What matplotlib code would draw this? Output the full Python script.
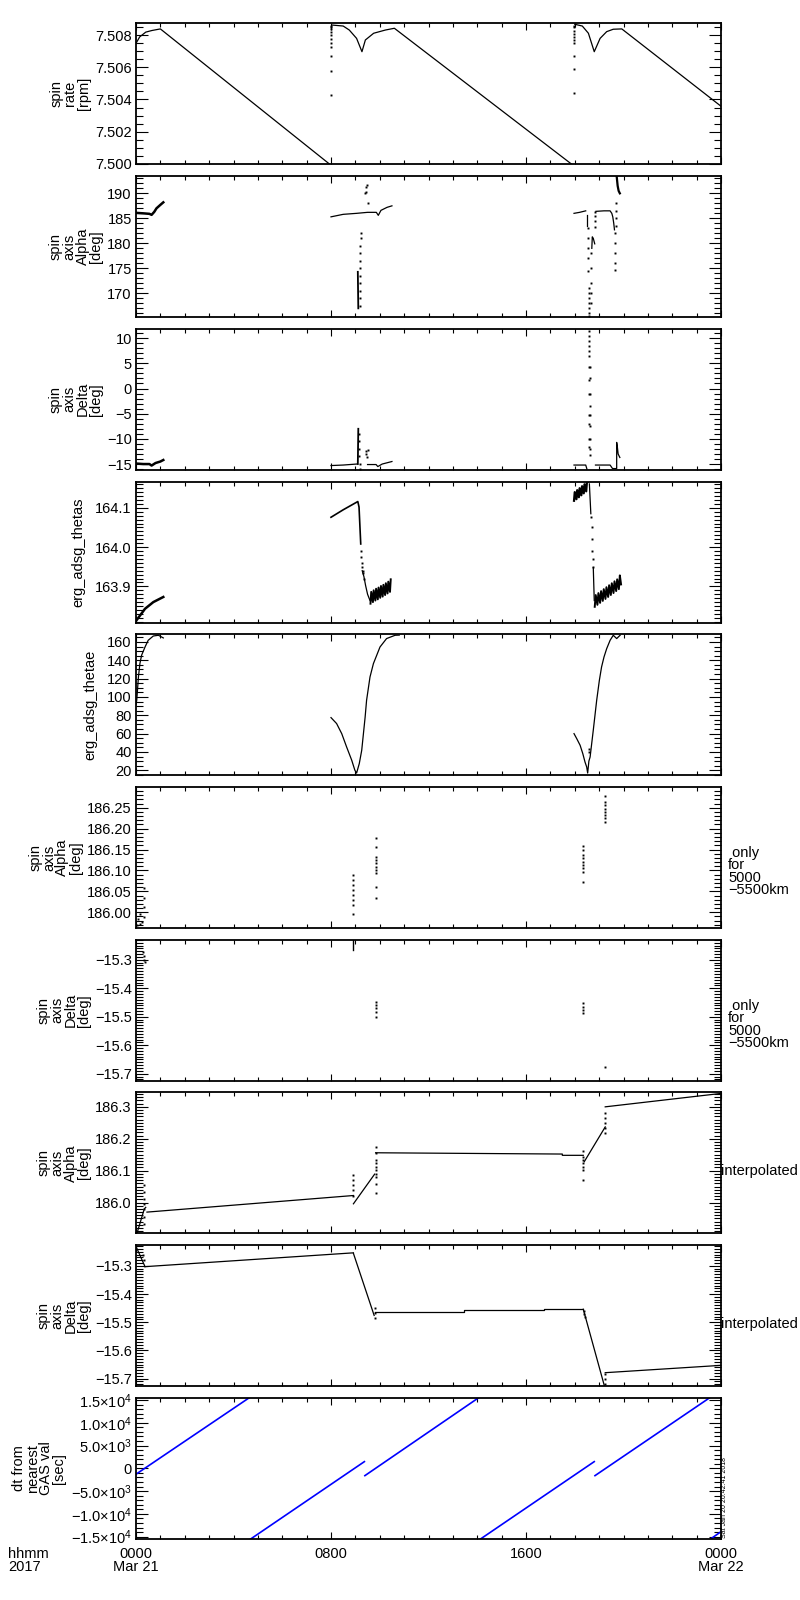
import matplotlib
matplotlib.use("Agg")
import matplotlib.pyplot as plt
from matplotlib.ticker import MultipleLocator, FixedLocator, FuncFormatter

OUTPUT_PLOT = "out.png"

plt.rcParams["font.family"] = ["Liberation Sans", "DejaVu Sans"]
plt.rcParams["font.size"] = 10.5
plt.rcParams["mathtext.fontset"] = "custom"
plt.rcParams["mathtext.rm"] = "Liberation Sans"
plt.rcParams["mathtext.it"] = "Liberation Sans"

# x axis: hours after 0000 Mar 21 2017
X_TICKS = [0, 8, 16, 24]
X_TICK_LABELS = ["0000\nMar 21", "0800", "1600", "0000\nMar 22"]

# ---- panel 1: spin rate [rpm]
RATE_A_H = [0.0, 0.15, 0.4, 0.65, 1.0, 8.0]
RATE_A_V = [7.5075, 7.5079, 7.5082, 7.5083, 7.5084, 7.4999]
RATE_B_H = [8.05, 8.5, 8.75, 9.05, 9.27, 9.41, 9.75, 10.23, 10.6, 17.93]
RATE_B_V = [7.50864, 7.50858, 7.50833, 7.50781, 7.50698, 7.50771, 7.50813, 7.50833, 7.50844, 7.4999]
RATE_C_H = [18.0, 18.31, 18.56, 18.8, 19.04, 19.31, 19.58, 19.93, 24.0]
RATE_C_V = [7.50869, 7.50858, 7.50813, 7.50698, 7.50781, 7.50823, 7.50838, 7.5084, 7.50358]
RATE_DOTS_H = [8.0, 8.0, 8.0, 8.0, 8.0, 8.0, 8.0, 8.0, 8.0, 8.0, 8.0,
               17.98, 17.98, 17.98, 17.98, 17.98, 17.98, 17.98, 17.98, 17.98, 17.98]
RATE_DOTS_V = [7.5086, 7.5085, 7.5084, 7.5082, 7.508, 7.5078, 7.5075, 7.5073, 7.5067, 7.5058, 7.5043,
               7.5086, 7.5085, 7.5083, 7.5081, 7.5079, 7.5077, 7.5075, 7.5067, 7.5059, 7.5044]

# ---- panel 2: spin axis Alpha [deg]
ALPHA_BAND_H = [0.0, 0.3, 0.55, 0.64, 0.75, 0.84, 1.0, 1.12]
ALPHA_BAND_V = [186.1, 186.0, 185.9, 185.7, 186.3, 187.0, 187.7, 188.2]
ALPHA_B_H = [8.0, 8.5, 9.05, 9.5, 9.86, 9.94, 10.05, 10.3, 10.5]
ALPHA_B_V = [185.3, 185.8, 186.0, 186.2, 186.2, 185.6, 186.6, 187.2, 187.5]
ALPHA_C_H = [9.1, 9.12]
ALPHA_C_V = [174.3, 167.0]
ALPHA_D_H = [17.97, 18.2, 18.45]
ALPHA_D_V = [186.0, 186.2, 186.5]
ALPHA_E_H = [18.49, 18.49]
ALPHA_E_V = [185.7, 183.5]
ALPHA_F_H = [18.70, 18.72, 18.76, 18.82]
ALPHA_F_V = [179.0, 181.3, 181.0, 179.9]
ALPHA_G_H = [18.87, 19.2, 19.45, 19.52, 19.56, 19.6, 19.63]
ALPHA_G_V = [186.4, 186.5, 186.5, 186.0, 185.3, 184.0, 182.7]
ALPHA_H_H = [19.72, 19.76, 19.8, 19.85]
ALPHA_H_V = [193.4, 191.5, 190.5, 190.0]
ALPHA_DOTS_H = [9.17, 9.18, 9.18, 9.19, 9.19, 9.2, 9.2, 9.21, 9.21, 9.22, 9.22,
                9.4, 9.43, 9.45, 9.46, 9.5,
                18.56, 18.56, 18.56, 18.56, 18.56,
                18.57, 18.58, 18.58, 18.59, 18.59, 18.6, 18.6,
                18.65, 18.65, 18.65, 18.65, 18.65,
                18.85, 18.85, 18.85, 18.85,
                19.65, 19.65, 19.65, 19.65, 19.65,
                19.7, 19.7, 19.7, 19.7]
ALPHA_DOTS_V = [167.5, 169.0, 170.5, 172.0, 173.5, 175.0, 176.5, 178.0, 179.5, 181.0, 182.0,
                190.0, 190.3, 191.3, 191.7, 188.0,
                183.1, 181.0, 179.0, 177.0, 174.5,
                171.0, 170.0, 169.0, 168.0, 167.0, 166.0, 165.5,
                178.0, 175.0, 172.0, 170.0, 168.0,
                186.3, 185.5, 184.5, 183.3,
                182.0, 180.0, 178.0, 176.0, 174.7,
                183.5, 185.0, 186.5, 188.0]

# ---- panel 3: spin axis Delta [deg]
DELTA_BAND_H = [0.0, 0.3, 0.55, 0.64, 0.8, 1.0, 1.12]
DELTA_BAND_V = [-14.9, -15.0, -15.0, -15.3, -14.8, -14.5, -14.2]
DELTA_B_H = [8.0, 8.5, 9.05]
DELTA_B_V = [-15.3, -15.2, -15.0]
DELTA_C_H = [9.1, 9.12]
DELTA_C_V = [-15.0, -8.0]
DELTA_D_H = [9.5, 9.85, 9.92, 10.1, 10.5]
DELTA_D_V = [-15.1, -15.1, -15.5, -15.0, -14.5]
DELTA_E_H = [17.97, 18.45, 18.5]
DELTA_E_V = [-15.2, -15.2, -16.0]
DELTA_F_H = [18.85, 19.45, 19.55, 19.7, 19.72, 19.72, 19.75, 19.78, 19.85]
DELTA_F_V = [-15.2, -15.2, -15.9, -15.9, -15.9, -10.7, -11.7, -13.0, -13.7]
DELTA_DOTS_H = [9.13, 9.14, 9.15, 9.16, 9.18, 9.2,
                9.42, 9.45, 9.47, 9.5,
                18.57, 18.57, 18.57, 18.57, 18.57, 18.57, 18.57, 18.57, 18.57, 18.57, 18.57, 18.57, 18.57,
                18.62, 18.62, 18.62, 18.62, 18.62, 18.62, 18.62, 18.62, 18.62]
DELTA_DOTS_V = [-9.0, -10.5, -12.0, -13.5, -15.0, -16.0,
                -12.5, -13.0, -13.6, -12.3,
                11.5, 10.5, 9.5, 8.5, 7.5, 6.5, 4.3, 1.7, -1.0, -5.3, -7.0, -10.0, -11.7,
                4.3, 2.0, -1.0, -3.5, -5.3, -7.5, -10.0, -12.0, -13.3]

# ---- panel 4: erg_adsg_thetas
THETAS_A_H = [0.0, 0.37, 0.71, 1.12]
THETAS_A_V = [163.812, 163.843, 163.86, 163.873]
THETAS_B_H = [8.0, 8.5, 9.1, 9.15, 9.22]
THETAS_B_V = [164.076, 164.095, 164.116, 164.102, 164.008]
THETAS_C_H = [9.28, 9.35, 9.42, 9.5, 9.6]
THETAS_C_V = [163.94, 163.925, 163.902, 163.88, 163.864]
THETAS_D_H = [9.62, 9.65, 9.72, 9.75, 9.82, 9.85, 9.92, 9.95, 10.02, 10.05,
              10.12, 10.15, 10.22, 10.25, 10.32, 10.35, 10.42, 10.45]
THETAS_D_V = [163.856, 163.886, 163.86, 163.89, 163.864, 163.894, 163.867, 163.897, 163.871, 163.901,
              163.874, 163.904, 163.878, 163.908, 163.882, 163.912, 163.886, 163.918]
THETAS_E_H = [17.97, 18.0, 18.07, 18.1, 18.17, 18.2, 18.27, 18.3, 18.37, 18.4, 18.47, 18.5, 18.55]
THETAS_E_V = [164.118, 164.14, 164.122, 164.145, 164.127, 164.15, 164.132, 164.155, 164.137,
              164.16, 164.142, 164.166, 164.167]
THETAS_F_H = [18.6, 18.66]
THETAS_F_V = [164.161, 164.085]
THETAS_G_H = [18.76, 18.8]
THETAS_G_V = [163.948, 163.864]
THETAS_H_H = [18.82, 18.86, 18.93, 18.97, 19.04, 19.08, 19.15, 19.19, 19.26, 19.3, 19.37,
              19.41, 19.48, 19.52, 19.59, 19.63, 19.7, 19.74, 19.81, 19.85, 19.9]
THETAS_H_V = [163.848, 163.878, 163.853, 163.883, 163.858, 163.888, 163.863, 163.893, 163.868,
              163.898, 163.873, 163.903, 163.878, 163.908, 163.883, 163.913, 163.888, 163.918,
              163.893, 163.928, 163.905]
THETAS_DOTS_H = [9.24, 9.25, 9.26, 9.27, 9.3, 9.33, 9.36,
                 18.68, 18.69, 18.7, 18.71, 18.73, 18.75]
THETAS_DOTS_V = [163.99, 163.975, 163.96, 163.95, 163.935, 163.94, 163.92,
                 164.076, 164.05, 164.02, 163.99, 163.97, 163.95]

# ---- panel 5: erg_adsg_thetae
THETAE_A_H = [0.0, 0.03, 0.1, 0.16, 0.23, 0.37, 0.5, 0.71, 0.92, 1.12]
THETAE_A_V = [92, 96.4, 121.8, 136.4, 145.5, 154.5, 161.8, 166.5, 167.3, 164.4]
THETAE_B_H = [8.0, 8.23, 8.44, 8.64, 8.85, 8.98, 9.05, 9.16, 9.26, 9.4, 9.46, 9.6, 9.74,
              10.01, 10.28, 10.63, 10.8]
THETAE_B_V = [77.5, 71, 60, 45.5, 31, 20, 17, 27.3, 41.8, 78, 96.4, 121.8, 136.4,
              154.5, 163.7, 167.3, 167.5]
THETAE_C_H = [17.97, 18.08, 18.22, 18.33, 18.42, 18.49, 18.53, 18.58, 18.63, 18.76, 18.9,
              19.01, 19.1, 19.2, 19.31, 19.45, 19.58, 19.72, 19.86]
THETAE_C_V = [60, 54.6, 47.3, 38.2, 29.1, 23.6, 17, 30, 34.5, 63.7, 96.4,
              118.2, 132.7, 143.6, 152.7, 161.8, 167.3, 163.7, 167.3]
THETAE_DOTS_H = [18.57, 18.6]
THETAE_DOTS_V = [43.6, 40.0]

# ---- panel 6: spin axis Alpha, only for 5000-5500km
ALPHA_R_H = [0.03, 0.1, 0.16, 0.16, 0.23, 0.34, 0.34, 0.34, 0.34,
             8.92, 8.92, 8.92, 8.92, 8.92, 8.92, 8.92, 8.92,
             9.83, 9.83, 9.83, 9.83, 9.83, 9.83, 9.83, 9.83, 9.83, 9.83,
             18.35, 18.35, 18.35, 18.35, 18.35, 18.35, 18.35, 18.35, 18.35,
             19.25, 19.25, 19.25, 19.25, 19.25, 19.25, 19.25, 19.25]
ALPHA_R_V = [185.969, 185.985, 185.997, 185.973, 185.977, 186.057, 186.033, 186.013, 185.989,
             186.089, 186.077, 186.065, 186.053, 186.041, 186.029, 186.017, 185.997,
             186.177, 186.157, 186.133, 186.125, 186.117, 186.109, 186.101, 186.093, 186.061, 186.033,
             186.158, 186.149, 186.137, 186.129, 186.121, 186.113, 186.105, 186.097, 186.073,
             186.278, 186.264, 186.256, 186.248, 186.24, 186.233, 186.225, 186.217]

# ---- panel 7: spin axis Delta, only for 5000-5500km
DELTA_R_H = [0.3, 0.32, 0.34, 0.37,
             9.83, 9.83, 9.83, 9.83, 9.83,
             18.35, 18.35, 18.35, 18.35,
             19.25]
DELTA_R_V = [-15.271, -15.288, -15.3, -15.306,
             -15.447, -15.458, -15.47, -15.482, -15.5,
             -15.453, -15.464, -15.476, -15.488,
             -15.676]
DELTA_R_SEG_H = [8.92, 8.92]
DELTA_R_SEG_V = [-15.225, -15.265]

# ---- panel 8: spin axis Alpha, interpolated
ALPHA_I_A_H = [0.03, 0.34, 0.4]
ALPHA_I_A_V = [185.901, 185.98, 185.985]
ALPHA_I_B_H = [0.45, 8.92]
ALPHA_I_B_V = [185.97, 186.022]
ALPHA_I_C_H = [8.92, 9.79]
ALPHA_I_C_V = [185.996, 186.089]
ALPHA_I_D_H = [9.83, 17.49, 17.49, 18.35]
ALPHA_I_D_V = [186.156, 186.152, 186.148, 186.148]
ALPHA_I_E_H = [18.39, 19.25]
ALPHA_I_E_V = [186.128, 186.237]
ALPHA_I_F_H = [19.25, 24.0]
ALPHA_I_F_V = [186.3, 186.342]
ALPHA_I_DOTS_H = [0.34, 0.34, 0.34, 0.34, 0.34, 0.34, 0.34,
                  8.92, 8.92, 8.92, 8.92, 8.92,
                  9.83, 9.83, 9.83, 9.83, 9.83, 9.83, 9.83, 9.83, 9.83, 9.83,
                  18.35, 18.35, 18.35, 18.35, 18.35, 18.35, 18.35,
                  19.25, 19.25, 19.25, 19.25, 19.25]
ALPHA_I_DOTS_V = [186.054, 186.033, 186.012, 185.996, 185.98, 185.954, 185.933,
                  186.086, 186.07, 186.054, 186.038, 186.022,
                  186.175, 186.154, 186.133, 186.123, 186.112, 186.102, 186.091, 186.08, 186.059, 186.03,
                  186.16, 186.144, 186.133, 186.123, 186.112, 186.102, 186.072,
                  186.281, 186.265, 186.249, 186.234, 186.218]

# ---- panel 9: spin axis Delta, interpolated
DELTA_I_A_H = [0.03, 0.37]
DELTA_I_A_V = [-15.237, -15.303]
DELTA_I_B_H = [0.37, 8.92]
DELTA_I_B_V = [-15.303, -15.254]
DELTA_I_C_H = [8.92, 9.77]
DELTA_I_C_V = [-15.256, -15.476]
DELTA_I_D_H = [9.8, 13.46, 13.46, 16.75, 16.75, 18.35]
DELTA_I_D_V = [-15.465, -15.465, -15.458, -15.458, -15.454, -15.454]
DELTA_I_E_H = [18.35, 19.21]
DELTA_I_E_V = [-15.454, -15.724]
DELTA_I_F_H = [19.25, 24.0]
DELTA_I_F_V = [-15.679, -15.653]
DELTA_I_DOTS_H = [0.3, 0.32, 9.8, 9.8, 9.8, 18.37, 18.38, 18.4, 19.25, 19.25, 19.25]
DELTA_I_DOTS_V = [-15.26, -15.28, -15.45, -15.468, -15.485, -15.46, -15.47, -15.48, -15.685, -15.7, -15.72]

# ---- panel 10: dt from nearest GAS val [sec]
DT_SEGS_H = [[0.0, 4.65], [4.68, 9.37], [9.39, 14.06], [14.11, 18.8], [18.83, 23.54], [23.55, 24.0]]
DT_SEGS_V = [[-1300, 15500], [-15600, 1466], [-1609, 15500], [-15600, 1466], [-1609, 15500], [-15600, -13900]]


def sci_label(v, pos):
    table = {15000: "1.5$\\times$10$^{4}$", 10000: "1.0$\\times$10$^{4}$",
             5000: "5.0$\\times$10$^{3}$", 0: "0"}
    key = int(round(abs(v)))
    if key not in table:
        return ""
    s = table[key]
    return ("\u2212" + s) if v < -1 else s


def num_label(fmt):
    def f(v, pos):
        if abs(v) < 1e-9:
            v = 0.0
        return (fmt % v).replace("-", "\u2212")
    return FuncFormatter(f)


def style_axes(ax, ylim, major, minor, fmt):
    ax.set_xlim(0, 24)
    ax.set_ylim(*ylim)
    ax.xaxis.set_major_locator(FixedLocator(X_TICKS))
    ax.xaxis.set_minor_locator(MultipleLocator(1))
    ax.yaxis.set_major_locator(MultipleLocator(major))
    ax.yaxis.set_minor_locator(MultipleLocator(minor))
    if fmt == "sci":
        ax.yaxis.set_major_formatter(FuncFormatter(sci_label))
    else:
        ax.yaxis.set_major_formatter(num_label(fmt))
    ax.tick_params(which="both", direction="in", top=True, right=True, width=0.8, color="black")
    ax.tick_params(axis="y", which="major", length=8.5, pad=3)
    ax.tick_params(axis="y", which="minor", length=5)
    ax.tick_params(axis="x", which="major", length=5, pad=6)
    ax.tick_params(axis="x", which="minor", length=3)
    ax.tick_params(labelbottom=False)
    for sp in ax.spines.values():
        sp.set_linewidth(1.3)


def lines(ax, hs, vs, lw=0.9, color="black"):
    ax.plot(hs, vs, color=color, lw=lw)


def dots(ax, hs, vs):
    ax.plot(hs, vs, ls="none", marker="s", ms=1.4, mew=0, color="black")


fig = plt.figure(figsize=(8, 16), dpi=100)
LEFT, WIDTH = 136 / 800, 585 / 800
TOP0, PITCH, HEIGHT = 23.3, 152.74, 141.0
axes = []
for i in range(10):
    top = TOP0 + PITCH * i
    axes.append(fig.add_axes([LEFT, 1 - (top + HEIGHT) / 1600, WIDTH, HEIGHT / 1600]))

MULTI_KW = dict(linespacing=0.95, labelpad=3)
SINGLE_KW = dict(labelpad=7)

# 1 spin rate
ax = axes[0]
style_axes(ax, (7.49996, 7.50875), 0.002, 0.0005, "%.3f")
lines(ax, RATE_A_H, RATE_A_V)
lines(ax, RATE_B_H, RATE_B_V)
lines(ax, RATE_C_H, RATE_C_V)
dots(ax, RATE_DOTS_H, RATE_DOTS_V)
ax.set_ylabel("spin\nrate\n[rpm]", **MULTI_KW)

# 2 spin axis alpha
ax = axes[1]
style_axes(ax, (165.26, 193.46), 5, 1, "%d")
lines(ax, ALPHA_BAND_H, ALPHA_BAND_V, lw=1.8)
for hs, vs in [(ALPHA_B_H, ALPHA_B_V), (ALPHA_D_H, ALPHA_D_V), (ALPHA_E_H, ALPHA_E_V),
               (ALPHA_F_H, ALPHA_F_V), (ALPHA_G_H, ALPHA_G_V)]:
    lines(ax, hs, vs)
lines(ax, ALPHA_C_H, ALPHA_C_V, lw=1.3)
lines(ax, ALPHA_H_H, ALPHA_H_V, lw=1.6)
dots(ax, ALPHA_DOTS_H, ALPHA_DOTS_V)
ax.set_ylabel("spin\naxis\nAlpha\n[deg]", **MULTI_KW)

# 3 spin axis delta
ax = axes[2]
style_axes(ax, (-16.14, 11.86), 5, 1, "%d")
lines(ax, DELTA_BAND_H, DELTA_BAND_V, lw=1.8)
for hs, vs in [(DELTA_B_H, DELTA_B_V), (DELTA_D_H, DELTA_D_V), (DELTA_E_H, DELTA_E_V),
               (DELTA_F_H, DELTA_F_V)]:
    lines(ax, hs, vs)
lines(ax, DELTA_C_H, DELTA_C_V, lw=1.3)
dots(ax, DELTA_DOTS_H, DELTA_DOTS_V)
ax.set_ylabel("spin\naxis\nDelta\n[deg]", **MULTI_KW)

# 4 thetas
ax = axes[3]
style_axes(ax, (163.808, 164.167), 0.1, 0.01, "%.1f")
lines(ax, THETAS_A_H, THETAS_A_V, lw=1.8)
lines(ax, THETAS_B_H, THETAS_B_V, lw=1.2)
lines(ax, THETAS_C_H, THETAS_C_V)
lines(ax, THETAS_D_H, THETAS_D_V, lw=1.4)
lines(ax, THETAS_E_H, THETAS_E_V, lw=1.6)
lines(ax, THETAS_F_H, THETAS_F_V)
lines(ax, THETAS_G_H, THETAS_G_V)
lines(ax, THETAS_H_H, THETAS_H_V, lw=1.4)
dots(ax, THETAS_DOTS_H, THETAS_DOTS_V)
ax.set_ylabel("erg_adsg_thetas", **SINGLE_KW)

# 5 thetae
ax = axes[4]
style_axes(ax, (14.6, 168.4), 20, 5, "%d")
lines(ax, THETAE_A_H, THETAE_A_V)
lines(ax, THETAE_B_H, THETAE_B_V)
lines(ax, THETAE_C_H, THETAE_C_V)
dots(ax, THETAE_DOTS_H, THETAE_DOTS_V)
ax.set_ylabel("erg_adsg_thetae", **SINGLE_KW)

# 6 alpha, range restricted
ax = axes[5]
style_axes(ax, (185.9624, 186.2995), 0.05, 0.01, "%.2f")
dots(ax, ALPHA_R_H, ALPHA_R_V)
ax.set_ylabel("spin\naxis\nAlpha\n[deg]", **MULTI_KW)
ax.text(1.012, 0.40, " only\nfor\n5000\n\u22125500km", transform=ax.transAxes,
        ha="left", va="center", linespacing=0.85)

# 7 delta, range restricted
ax = axes[6]
style_axes(ax, (-15.7246, -15.2296), 0.1, 0.01, "%.1f")
dots(ax, DELTA_R_H, DELTA_R_V)
lines(ax, DELTA_R_SEG_H, DELTA_R_SEG_V, lw=1.0)
ax.set_ylabel("spin\naxis\nDelta\n[deg]", **MULTI_KW)
ax.text(1.012, 0.40, " only\nfor\n5000\n\u22125500km", transform=ax.transAxes,
        ha="left", va="center", linespacing=0.85)

# 8 alpha interpolated
ax = axes[7]
style_axes(ax, (185.903, 186.345), 0.1, 0.01, "%.1f")
for hs, vs in [(ALPHA_I_A_H, ALPHA_I_A_V), (ALPHA_I_B_H, ALPHA_I_B_V), (ALPHA_I_C_H, ALPHA_I_C_V),
               (ALPHA_I_D_H, ALPHA_I_D_V), (ALPHA_I_E_H, ALPHA_I_E_V), (ALPHA_I_F_H, ALPHA_I_F_V)]:
    lines(ax, hs, vs)
dots(ax, ALPHA_I_DOTS_H, ALPHA_I_DOTS_V)
ax.set_ylabel("spin\naxis\nAlpha\n[deg]", **MULTI_KW)
ax.text(1.0, 0.44, "interpolated", transform=ax.transAxes, ha="left", va="center")

# 9 delta interpolated
ax = axes[8]
style_axes(ax, (-15.727, -15.227), 0.1, 0.01, "%.1f")
for hs, vs in [(DELTA_I_A_H, DELTA_I_A_V), (DELTA_I_B_H, DELTA_I_B_V), (DELTA_I_C_H, DELTA_I_C_V),
               (DELTA_I_D_H, DELTA_I_D_V), (DELTA_I_E_H, DELTA_I_E_V), (DELTA_I_F_H, DELTA_I_F_V)]:
    lines(ax, hs, vs)
dots(ax, DELTA_I_DOTS_H, DELTA_I_DOTS_V)
ax.set_ylabel("spin\naxis\nDelta\n[deg]", **MULTI_KW)
ax.text(1.0, 0.44, "interpolated", transform=ax.transAxes, ha="left", va="center")

# 10 dt from nearest GAS value
ax = axes[9]
style_axes(ax, (-15504, 15438), 5000, 1000, "sci")
for hs, vs in zip(DT_SEGS_H, DT_SEGS_V):
    lines(ax, hs, vs, lw=1.2, color="#0000ff")
ax.set_ylabel("dt from\nnearest\nGAS val\n[sec]", **MULTI_KW)
ax.tick_params(labelbottom=True)
ax.set_xticks(X_TICKS)
for lbl in ax.set_xticklabels(X_TICK_LABELS):
    lbl.set_linespacing(0.9)

fig.text(8 / 800, 1 - 1547 / 1600, "hhmm\n2017", ha="left", va="top", linespacing=0.9)
fig.text(724 / 800, (1600 - 1538) / 1600, "Sat Jan 20 20:42:41 2018", rotation=90,
         fontsize=5, ha="center", va="bottom")

fig.savefig(OUTPUT_PLOT, dpi=100)
print(f"Saved chart to: {OUTPUT_PLOT}")
